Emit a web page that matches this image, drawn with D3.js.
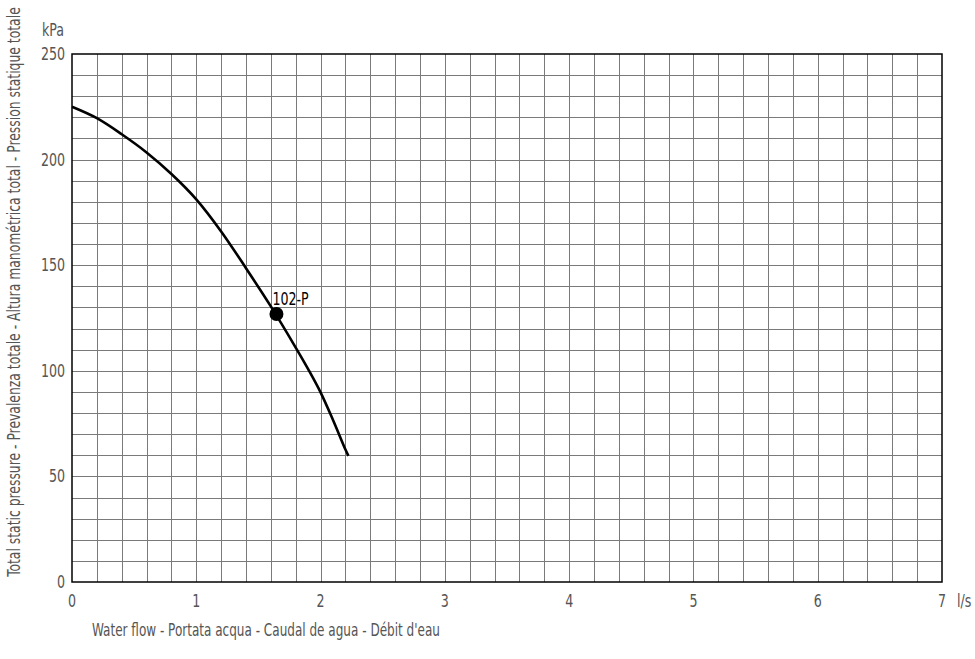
<!DOCTYPE html>
<meta charset="utf-8">
<script src="https://d3js.org/d3.v7.min.js"></script>
<style>
  body { margin: 0; background: #fff; }
  text { font-family: "DejaVu Sans Condensed", "DejaVu Sans", sans-serif; font-stretch: condensed; }
</style>
<div id="chart"></div>
<script>

// curve
var flow = [0, 0.2, 0.4, 0.6, 0.8, 1.0, 1.2, 1.4, 1.6, 1.8, 1.9, 2.0, 2.1, 2.2, 2.224];
var pressure = [225, 219.6, 212, 203.4, 193.2, 181.2, 166, 148.6, 130.5, 111, 100.8, 89.8, 76.7, 62.7, 59.7];

var pointName = ["102-P"];
var pointFlow = [1.645];
var pointPressure = [126.9];

var xTicks = [0, 1, 2, 3, 4, 5, 6, 7];
var yTicks = [0, 50, 100, 150, 200, 250];

var W = 975, H = 659;
var margin = {top: 54, right: 33, bottom: 77, left: 72};
var width = W - margin.left - margin.right,
    height = H - margin.top - margin.bottom;

var svg = d3.select("#chart").append("svg")
    .attr("width", W)
    .attr("height", H);

var g = svg.append("g")
    .attr("transform", "translate(" + margin.left + "," + margin.top + ")");

var x = d3.scaleLinear().domain([0, 7]).range([0, width]);
var y = d3.scaleLinear().domain([0, 250]).range([height, 0]);

// narrow text: squeeze a normal font sideways
function label(parent, px, py, str, anchor, color, size) {
  return parent.append("text")
    .attr("transform", "translate(" + px + "," + py + ") scale(0.78,1)")
    .attr("text-anchor", anchor || "start")
    .style("font-size", (size || 18) + "px")
    .style("fill", color || "#555")
    .text(str);
}

// squeeze a title so it fills a given length
function title(px, py, rot, str, anchor, len, size) {
  var t = svg.append("text")
    .attr("text-anchor", anchor)
    .style("font-size", size + "px").style("fill", "#555")
    .text(str);
  var s = len / t.node().getComputedTextLength();
  t.attr("transform", "translate(" + px + "," + py + ")rotate(" + rot + ")scale(" + s + ",1)");
  return t;
}

// grid, every 0.2 l/s and every 10 kPa
g.append("g")
  .selectAll("line")
  .data(d3.range(1, 35).map(function(i) { return i * 0.2; }))
  .enter().append("line")
    .attr("x1", function(d) { return Math.round(x(d)) + 0.5; })
    .attr("x2", function(d) { return Math.round(x(d)) + 0.5; })
    .attr("y1", 0).attr("y2", height)
    .attr("stroke", "#7a7a7a").attr("stroke-width", 1);

g.append("g")
  .selectAll("line")
  .data(d3.range(1, 25).map(function(i) { return i * 10; }))
  .enter().append("line")
    .attr("y1", function(d) { return Math.round(y(d)) + 0.5; })
    .attr("y2", function(d) { return Math.round(y(d)) + 0.5; })
    .attr("x1", 0).attr("x2", width)
    .attr("stroke", "#7a7a7a").attr("stroke-width", 1);

// frame
g.append("rect")
  .attr("x", 0).attr("y", 0)
  .attr("width", width).attr("height", height)
  .attr("fill", "none").attr("stroke", "#000").attr("stroke-width", 1.5);

// tick labels
xTicks.forEach(function(d) { label(g, x(d), height + 25, d, "middle"); });
yTicks.forEach(function(d) { label(g, -7, y(d) + 6, d, "end"); });

label(g, width + 15, height + 25, "l/s");
label(g, -30, -18, "kPa", "start", "#555", 18);

// axis titles
title(20, 292, -90, "Total static pressure - Prevalenza totale - Altura manométrica total - Pression statique totale", "middle", 570, 17);
title(92, 636, 0, "Water flow - Portata acqua - Caudal de agua - Débit d'eau", "start", 348, 18);

// pump curve
var line = d3.line()
  .x(function(d, i) { return x(flow[i]); })
  .y(function(d, i) { return y(pressure[i]); })
  .curve(d3.curveCatmullRom.alpha(0.5));

g.append("path")
  .datum(flow)
  .attr("d", line)
  .attr("fill", "none").attr("stroke", "#000").attr("stroke-width", 2.6);

// working point
g.selectAll(".pt")
  .data(pointName)
  .enter().append("circle")
    .attr("cx", function(d, i) { return x(pointFlow[i]); })
    .attr("cy", function(d, i) { return y(pointPressure[i]); })
    .attr("r", 7).attr("fill", "#000");

pointName.forEach(function(d, i) {
  label(g, x(pointFlow[i]) - 4, y(pointPressure[i]) - 9, d, "start", "#000", 18);
});

</script>
